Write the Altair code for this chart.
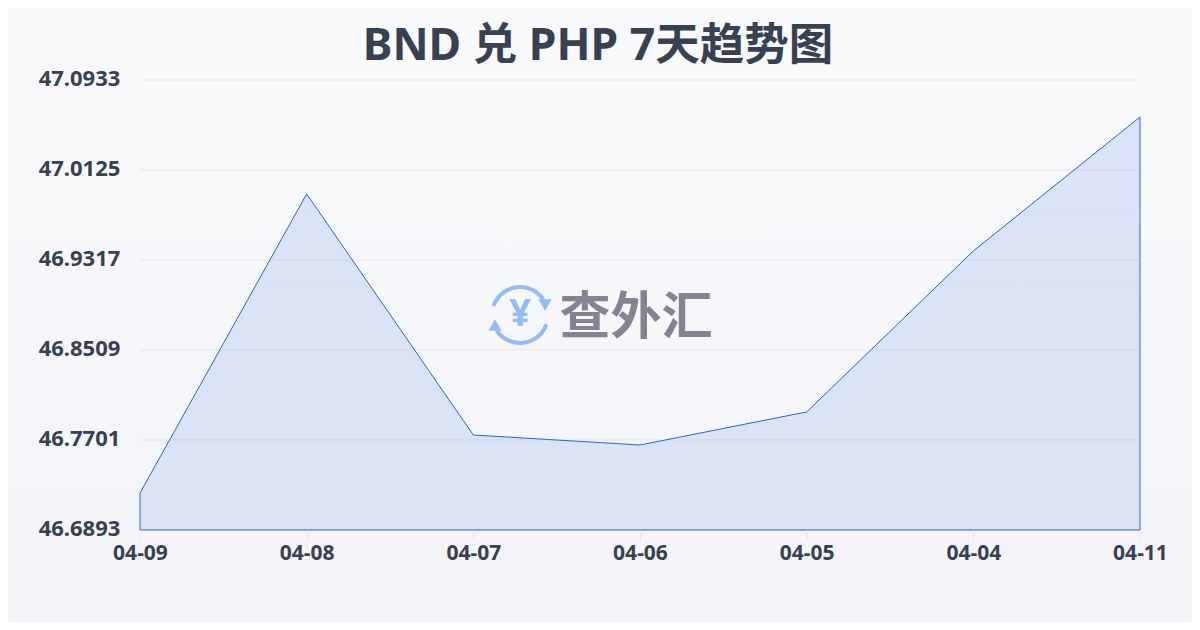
import altair as alt
import pandas as pd

dates = ["04-09", "04-08", "04-07", "04-06", "04-05", "04-04", "04-11"]
rates = [46.7225, 46.9910, 46.7746, 46.7656, 46.7953, 46.9398, 47.0601]
y_ticks = [46.6893, 46.7701, 46.8509, 46.9317, 47.0125, 47.0933]
TITLE = "BND 兑 PHP 7天趋势图"
FONT = "Noto Sans, Noto Sans CJK SC, sans-serif"
INK = "#374151"

df = pd.DataFrame({"date": dates, "rate": rates})
x = alt.X("date:N", sort=dates, title=None,
          scale=alt.Scale(type="point", padding=0, domain=dates),
          axis=alt.Axis(labelAngle=0, labelFont=FONT, labelFontSize=21, labelFontWeight="bold",
                        labelColor=INK, labelPadding=2, tickColor="#e5e7eb", tickSize=10,
                        domain=False, grid=False, zindex=1))
y_scale = alt.Scale(domain=[y_ticks[0], y_ticks[-1]], zero=False, nice=False)
y_axis = alt.Axis(values=y_ticks, format=".4f", labelFont=FONT, labelFontSize=22,
                  labelFontWeight="bold", labelColor=INK, labelAlign="center",
                  labelPadding=61, labelOffset=-2, ticks=False, domain=False, grid=False, zindex=1)
y = alt.Y("rate:Q", title=None, scale=y_scale, stack=None, axis=y_axis)

W, H = 1000, 450
L, T, R, B = 132, 72, 52, 92
bg = alt.Chart(pd.DataFrame({"a": [0]})).mark_rect(
    clip=False,
    color=alt.Gradient(gradient="linear", x1=0, x2=0, y1=0, y2=1,
                       stops=[alt.GradientStop(color="#f9fafc", offset=0),
                              alt.GradientStop(color="#f2f4f7", offset=1)])
).encode(x=alt.value(-L), x2=alt.value(W + R), y=alt.value(-T), y2=alt.value(H + B))

grid = alt.Chart(pd.DataFrame({"t": y_ticks})).mark_rule(color="#e5e7eb", strokeWidth=1).encode(
    y=alt.Y("t:Q", scale=y_scale, title=None, axis=y_axis))

area = alt.Chart(df).mark_area(
    stroke="#2f62c9", strokeWidth=1,
    color=alt.Gradient(gradient="linear", x1=0, x2=0, y1=0, y2=1,
                       stops=[alt.GradientStop(color="rgba(59,111,226,0.16)", offset=0),
                              alt.GradientStop(color="rgba(59,111,226,0.13)", offset=1)])
).encode(x=x, y=y)

one = pd.DataFrame({"a": [0]})
ICON = "#93bbf9"
title = alt.Chart(one).mark_text(text=TITLE, font=FONT, fontSize=44.5, fontWeight="bold", color=INK,
                                 align="center", baseline="middle").encode(
    x=alt.value(458), y=alt.value(-33))
wm_text = alt.Chart(one).mark_text(text="查外汇", font=FONT, fontSize=51, fontWeight="bold",
                                   color="#7f8591", align="center", baseline="middle").encode(
    x=alt.value(496), y=alt.value(239))
yen = alt.Chart(one).mark_text(text="¥", font=FONT, fontSize=38, fontWeight="bold",
                               color=ICON, align="center", baseline="middle").encode(
    x=alt.value(380), y=alt.value(235))
arc1 = alt.Chart(one).mark_arc(radius=30, radius2=26, theta=5.03, theta2=7.28, color=ICON, cornerRadius=2).encode(
    x=alt.value(380), y=alt.value(235))
arc2 = alt.Chart(one).mark_arc(radius=30, radius2=26, theta=1.9, theta2=4.15, color=ICON, cornerRadius=2).encode(
    x=alt.value(380), y=alt.value(235))
tri1 = alt.Chart(one).mark_point(shape="triangle-down", size=180, filled=True, opacity=1, color=ICON).encode(
    x=alt.value(405), y=alt.value(225))
tri2 = alt.Chart(one).mark_point(shape="triangle-up", size=180, filled=True, opacity=1, color=ICON).encode(
    x=alt.value(355), y=alt.value(245))

chart = alt.layer(bg, grid, area, arc1, arc2, tri1, tri2, yen, wm_text, title).properties(
    width=W, height=H,
    padding={"left": L, "top": T, "right": R, "bottom": B},
    autosize=alt.AutoSizeParams(type="none"),
    background="#f6f7fa",
).configure_view(stroke=None)

chart.save("out.html", embed_options={"renderer": "svg", "actions": False})
